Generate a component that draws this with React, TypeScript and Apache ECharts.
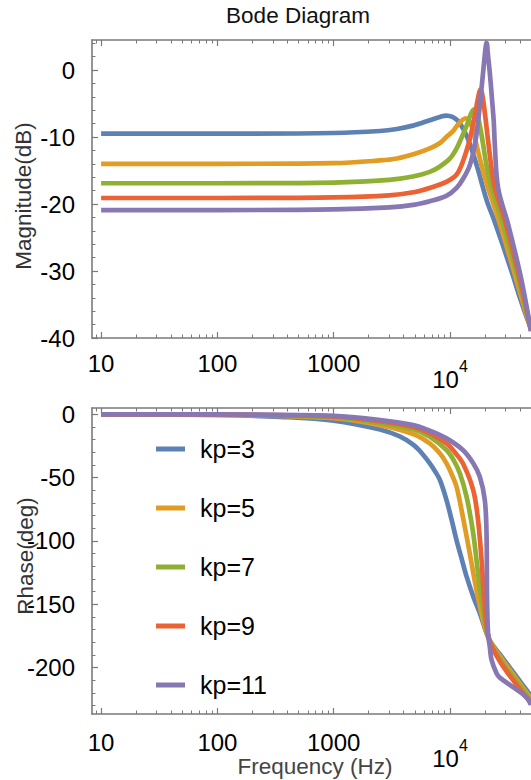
import React, { useEffect, useRef } from "react";
import * as echarts from "echarts";

// ---------- data ----------
const seriesNames = ["kp=3", "kp=5", "kp=7", "kp=9", "kp=11"];
const seriesColors = ["#5E81B5", "#E19C24", "#8FB032", "#EB6235", "#8778B3"];

const freqMin = 8.35;
const freqMax = 49700;
const xMajorTicks = [10, 100, 1000, 10000];
const xMinorTicks = [9, 20, 30, 40, 50, 60, 70, 80, 90, 200, 300, 400, 500, 600, 700, 800, 900, 2000, 3000, 4000, 5000, 6000, 7000, 8000, 9000, 20000, 30000, 40000];

const magMin = -40;
const magMax = 4.48;
const magMajorTicks = [-40, -30, -20, -10, 0];
const magMinorTicks = [-38, -36, -34, -32, -28, -26, -24, -22, -18, -16, -14, -12, -8, -6, -4, -2, 2, 4];

const phaseMin = -236.7;
const phaseMax = 5;
const phaseMajorTicks = [-200, -150, -100, -50, 0];
const phaseMinorTicks = [-230, -220, -210, -190, -180, -170, -160, -140, -130, -120, -110, -90, -80, -70, -60, -40, -30, -20, -10];

// magnitude (Hz, dB)
const magKp3: [number, number][] = [
  [10, -9.5], [100, -9.5], [1000, -9.4], [2500, -9.1], [3500, -8.8], [4800, -8.3], [6700, -7.5], [8200, -7.0],
  [9300, -6.8], [10500, -7.0], [11700, -7.6], [12800, -8.6], [13900, -9.8], [14800, -11.0], [16000, -12.8],
  [17500, -15.0], [19240, -17.6], [21000, -19.8], [23490, -22], [28000, -25.8], [33750, -30.0], [41000, -34.6],
  [49700, -38.7],
];
const magKp5: [number, number][] = [
  [10, -14.0], [100, -14.0], [1000, -13.9], [2500, -13.5], [3500, -13.2], [5000, -12.5], [6700, -11.7], [8200, -10.9],
  [9300, -10.0], [10500, -9.2], [11400, -8.4], [12500, -7.6], [13700, -7.2], [14500, -7.5], [15300, -8.3],
  [16300, -10.0], [16900, -11.2], [19240, -15.1], [21240, -17.6], [25900, -22.1], [35000, -29.7], [42000, -34.5],
  [49700, -38.7],
];
const magKp7: [number, number][] = [
  [10, -16.9], [100, -16.9], [1000, -16.8], [3000, -16.4], [4800, -15.9], [6700, -15.2], [8200, -14.4], [10000, -13.2],
  [11400, -11.7], [12500, -10.2], [13900, -8.3], [15000, -6.7], [16000, -5.9], [16900, -6.3], [17800, -7.8],
  [18800, -10.0], [19900, -12.7], [21000, -15.0], [22750, -17.6], [27680, -22.2], [36400, -29.6], [43000, -34.4],
  [49700, -38.8],
];
const magKp9: [number, number][] = [
  [10, -19.1], [100, -19.1], [1000, -19.0], [3000, -18.7], [5000, -18.2], [6700, -17.6], [9300, -16.7], [11400, -15.6],
  [13000, -13.5], [14800, -10.3], [15900, -7.8], [16900, -5.4], [17600, -3.8], [18270, -2.9], [18900, -3.6],
  [19900, -6.3], [21000, -9.8], [22000, -12.7], [23000, -15.3], [24280, -17.6], [29580, -22.4], [37870, -29.6],
  [44000, -34.6], [49700, -38.9],
];
const magKp11: [number, number][] = [
  [10, -20.9], [100, -20.9], [1000, -20.8], [3000, -20.5], [5000, -20.1], [6700, -19.6], [9300, -18.8], [11400, -17.6],
  [13000, -16.2], [14800, -14.2], [16300, -11.3], [17400, -7.8], [18500, -3.4], [19240, -0.4], [19900, 2.2],
  [20400, 3.8], [20700, 4.0], [21100, 2.6], [21980, -0.4], [23000, -4.5], [23790, -7.8], [24280, -11.2],
  [25900, -17.6], [31560, -23.0], [39800, -30.2], [45000, -34.8], [49700, -39.0],
];

// phase (Hz, deg)
const phaseKp3: [number, number][] = [
  [10, -0.1], [100, -0.5], [345, -2.0], [1000, -5], [2500, -12], [3700, -17.5], [4820, -24], [5700, -30.5],
  [6700, -38.7], [7500, -45.5], [8200, -52], [9330, -67.7], [10300, -83], [11370, -99.3], [12500, -113],
  [13870, -128], [16000, -145], [18040, -157], [21680, -177.7], [26800, -189.5], [37240, -207], [49700, -222.5],
];
const phaseKp5: [number, number][] = [
  [10, 0], [100, -0.4], [1000, -3], [2500, -8.5], [4820, -15.5], [6700, -23], [8200, -31], [9330, -38.7],
  [10300, -47], [11370, -57], [12900, -81], [14800, -110], [16900, -139], [19240, -162.5], [21680, -177.7],
  [26800, -191], [37240, -209], [49700, -224.5],
];
const phaseKp7: [number, number][] = [
  [10, 0], [100, -0.3], [1000, -2.2], [2500, -7], [4820, -11.8], [6700, -17.7], [9330, -28.2], [10800, -36.5],
  [12140, -46.6], [13870, -65], [15830, -94], [17420, -125.6], [19240, -154.6], [21680, -177.7], [26800, -193],
  [37240, -211], [49700, -226.3],
];
const phaseKp9: [number, number][] = [
  [10, 0], [100, -0.2], [1000, -1.6], [2500, -5.5], [4820, -10], [6700, -15], [9330, -22.9], [11000, -30],
  [12900, -38.7], [15830, -59.8], [17420, -83.5], [18670, -115], [19910, -152], [21680, -177.7], [26800, -195],
  [37240, -213.5], [49700, -228],
];
const phaseKp11: [number, number][] = [
  [10, 0], [100, -0.1], [1000, -1.2], [2500, -4.5], [4820, -8.5], [6700, -13], [9330, -19], [12900, -28.2],
  [15830, -38.7], [18040, -49.3], [19910, -67.7], [20600, -94], [20830, -146.7], [21240, -173], [21980, -183.6],
  [22750, -194], [25120, -204.6], [26800, -208], [34840, -215.5], [45400, -223.5], [49700, -229.5],
];

const magData = [magKp3, magKp5, magKp7, magKp9, magKp11];
const phaseData = [phaseKp3, phaseKp5, phaseKp7, phaseKp9, phaseKp11];

// ---------- styling ----------
const FONT = "'Liberation Sans', Arial, sans-serif";
const FRAME = "#7a7a7a";

function xAxes(gridIndex: number) {
  const base = {
    type: "log" as const,
    gridIndex,
    min: freqMin,
    max: freqMax,
    logBase: 10,
    splitLine: { show: false },
    minorTick: { show: false },
    minorSplitLine: { show: false },
  };
  const label = {
    customValues: xMajorTicks,
    fontFamily: FONT,
    fontSize: 24,
    color: "#000",
    margin: gridIndex === 0 ? 11 : 14,
    formatter: (v: number) => {
      const r = Math.round(v);
      if (r === 10000) return "{b|10}{s|4}";
      return "{n|" + r + "}";
    },
    rich: {
      n: { fontFamily: FONT, fontSize: 24, lineHeight: 28, color: "#000" },
      b: { fontFamily: FONT, fontSize: 24, lineHeight: 42, color: "#000", verticalAlign: "bottom" },
      s: { fontFamily: FONT, fontSize: 16, lineHeight: 20, color: "#000", verticalAlign: "top", padding: [9, 0, 0, 0] },
    },
  };
  return [
    {
      ...base,
      position: "bottom",
      axisLine: { show: true, onZero: false, lineStyle: { color: FRAME, width: 1.6 } },
      axisTick: { show: true, inside: true, length: 6, customValues: xMajorTicks, lineStyle: { color: FRAME, width: 1.2 } },
      axisLabel: label,
    },
    {
      ...base,
      position: "bottom",
      axisLine: { show: false, onZero: false },
      axisTick: { show: true, inside: true, length: 3.5, customValues: xMinorTicks, lineStyle: { color: FRAME, width: 1 } },
      axisLabel: { show: false },
    },
    {
      ...base,
      position: "top",
      axisLine: { show: true, onZero: false, lineStyle: { color: FRAME, width: 1.6 } },
      axisTick: { show: true, inside: true, length: 6, customValues: xMajorTicks, lineStyle: { color: FRAME, width: 1.2 } },
      axisLabel: { show: false },
    },
    {
      ...base,
      position: "top",
      axisLine: { show: false, onZero: false },
      axisTick: { show: true, inside: true, length: 3.5, customValues: xMinorTicks, lineStyle: { color: FRAME, width: 1 } },
      axisLabel: { show: false },
    },
  ];
}

function yAxes(gridIndex: number, min: number, max: number, major: number[], minor: number[]) {
  const base = {
    type: "value" as const,
    gridIndex,
    min,
    max,
    position: "left",
    splitLine: { show: false },
    minorTick: { show: false },
  };
  return [
    {
      ...base,
      axisLine: { show: true, onZero: false, lineStyle: { color: FRAME, width: 1.6 } },
      axisTick: { show: true, inside: true, length: 6, customValues: major, lineStyle: { color: FRAME, width: 1.2 } },
      axisLabel: { customValues: major, fontFamily: FONT, fontSize: 24, color: "#000", margin: 17 },
    },
    {
      ...base,
      axisLine: { show: false, onZero: false },
      axisTick: { show: true, inside: true, length: 3.5, customValues: minor, lineStyle: { color: FRAME, width: 1 } },
      axisLabel: { show: false },
    },
  ];
}

export default function App() {
  const ref = useRef<HTMLDivElement>(null);

  useEffect(() => {
    if (!ref.current) return;
    const chart = echarts.init(ref.current, undefined, { renderer: "svg" });

    const series: any[] = [];
    seriesNames.forEach((name, i) => {
      series.push({
        name,
        type: "line",
        xAxisIndex: 0,
        yAxisIndex: 0,
        data: magData[i],
        showSymbol: false,
        smooth: 0.35,
        lineStyle: { width: 4.7, color: seriesColors[i] },
        itemStyle: { color: seriesColors[i] },
        z: 2 + i,
      });
      series.push({
        name,
        type: "line",
        xAxisIndex: 4,
        yAxisIndex: 2,
        data: phaseData[i],
        showSymbol: false,
        smooth: 0.35,
        lineStyle: { width: 4.7, color: seriesColors[i] },
        itemStyle: { color: seriesColors[i] },
        z: 2 + i,
      });
    });

    chart.setOption({
      animation: false,
      backgroundColor: "#ffffff",
      grid: [
        { left: 92, top: 40, right: 0, height: 298, containLabel: false },
        { left: 92, top: 408, right: 0, height: 306, containLabel: false },
      ],
      xAxis: [...xAxes(0), ...xAxes(1)],
      yAxis: [
        ...yAxes(0, magMin, magMax, magMajorTicks, magMinorTicks),
        ...yAxes(1, phaseMin, phaseMax, phaseMajorTicks, phaseMinorTicks),
      ],
      legend: {
        data: seriesNames,
        orient: "vertical",
        left: 151,
        top: 429,
        icon: "rect",
        itemWidth: 29,
        itemHeight: 5,
        itemGap: 29,
        selectedMode: false,
        textStyle: { fontFamily: FONT, fontSize: 25, lineHeight: 30, color: "#000", padding: [0, 0, 0, 10] },
      },
      graphic: [
        {
          type: "text",
          x: 298,
          y: 15,
          style: { text: "Bode Diagram", fontFamily: FONT, fontSize: 22.5, fill: "#111", align: "center", verticalAlign: "middle" },
        },
        {
          type: "text",
          x: 23,
          y: 196,
          rotation: Math.PI / 2,
          style: { text: "Magnitude(dB)", fontFamily: FONT, fontSize: 22.5, fill: "#333", align: "center", verticalAlign: "middle" },
        },
        {
          type: "text",
          x: 25,
          y: 556,
          rotation: Math.PI / 2,
          style: { text: "Rhase(deg)", fontFamily: FONT, fontSize: 22.5, fill: "#333", align: "center", verticalAlign: "middle" },
        },
        {
          type: "text",
          x: 315,
          y: 766,
          style: { text: "Frequency (Hz)", fontFamily: FONT, fontSize: 22.5, fill: "#444", align: "center", verticalAlign: "middle" },
        },
      ],
      series,
    });

    return () => chart.dispose();
  }, []);

  return (
    <div
      ref={ref}
      style={{ position: "fixed", left: 0, top: 0, width: 531, height: 780, background: "#fff" }}
    />
  );
}
